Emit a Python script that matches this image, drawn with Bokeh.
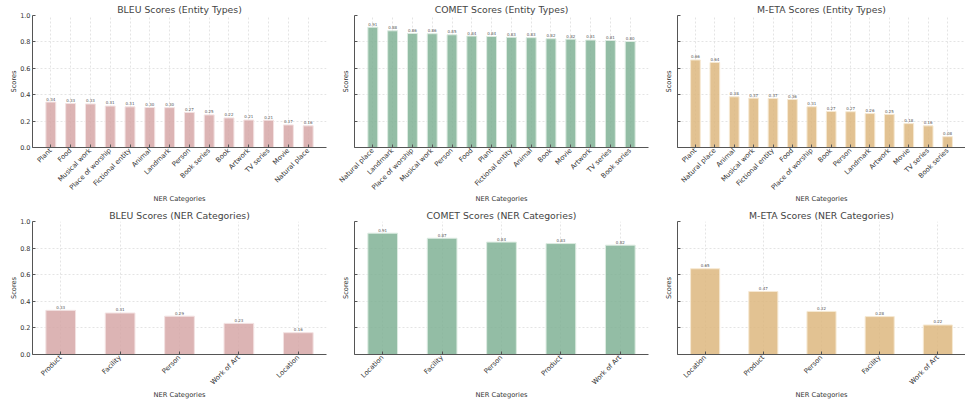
import math
from bokeh.plotting import figure
from bokeh.models import Range1d, FixedTicker, ColumnDataSource, PrintfTickFormatter
from bokeh.layouts import gridplot
from bokeh.embed import file_html
from bokeh.resources import INLINE
from bokeh.core.properties import value

# ---------------- data ----------------
bleu_entity_cats = ["Plant", "Food", "Musical work", "Place of worship", "Fictional entity",
                    "Animal", "Landmark", "Person", "Book series", "Book", "Artwork",
                    "TV series", "Movie", "Natural place"]
bleu_entity_vals = [0.344, 0.333, 0.330, 0.314, 0.308, 0.303, 0.302, 0.266, 0.247, 0.224,
                    0.208, 0.207, 0.171, 0.164]

comet_entity_cats = ["Natural place", "Landmark", "Place of worship", "Musical work", "Person",
                     "Food", "Plant", "Fictional entity", "Animal", "Book", "Movie", "Artwork",
                     "TV series", "Book series"]
comet_entity_vals = [0.911, 0.884, 0.864, 0.862, 0.854, 0.844, 0.841, 0.835, 0.832, 0.824,
                     0.821, 0.814, 0.811, 0.803]

meta_entity_cats = ["Plant", "Natural place", "Animal", "Musical work", "Fictional entity",
                    "Food", "Place of worship", "Book", "Person", "Landmark", "Artwork",
                    "Movie", "TV series", "Book series"]
meta_entity_vals = [0.663, 0.644, 0.384, 0.374, 0.372, 0.364, 0.309, 0.273, 0.271, 0.257,
                    0.251, 0.181, 0.164, 0.082]

bleu_ner_cats = ["Product", "Facility", "Person", "Work of Art", "Location"]
bleu_ner_vals = [0.332, 0.312, 0.288, 0.234, 0.164]

comet_ner_cats = ["Location", "Facility", "Person", "Product", "Work of Art"]
comet_ner_vals = [0.912, 0.874, 0.845, 0.834, 0.822]

meta_ner_cats = ["Location", "Product", "Person", "Facility", "Work of Art"]
meta_ner_vals = [0.645, 0.474, 0.324, 0.285, 0.222]

y_ticks = [0.0, 0.2, 0.4, 0.6, 0.8, 1.0]

BLEU_COLOR, BLEU_EDGE = "#d6a7a7", "#f3e2e2"
COMET_COLOR, COMET_EDGE = "#80b295", "#dcebe1"
META_COLOR, META_EDGE = "#ddb77f", "#f6e9d3"

FONT = "DejaVu Sans"
AXIS_C = "#555555"
TEXT_C = "#333333"


def make(title, cats, vals, color, edge, show_ylab, width, height, bl, br, bt, bb, xlab_standoff):
    n = len(cats)
    lo = -0.25 - 0.05 * (n - 0.5)
    hi = (n - 1) + 0.25 + 0.05 * (n - 0.5)
    p = figure(width=width, height=height, x_range=Range1d(lo, hi), y_range=Range1d(0, 1),
               output_backend="svg", toolbar_location=None,
               min_border_left=bl, min_border_right=br, min_border_top=bt, min_border_bottom=bb)
    xs = list(range(n))
    src = ColumnDataSource(dict(x=xs, top=vals,
                                label=[f"{v:.2f}" for v in vals],
                                ly=[v + 0.012 for v in vals]))
    p.vbar(x="x", top="top", bottom=0, width=0.5, source=src,
           fill_color=color, fill_alpha=0.85, line_color=edge, line_width=1)
    p.text(x="x", y="ly", text="label", source=src, text_font=value(FONT),
           text_font_size="4px", text_align="center", text_baseline="bottom",
           text_color="#555555")

    p.title.text = title
    p.title.text_font = FONT
    p.title.text_font_size = "9.3px"
    p.title.text_font_style = "normal"
    p.title.text_color = "#444444"
    p.title.align = "center"
    p.title.standoff = 2

    p.outline_line_color = None

    p.xaxis.ticker = FixedTicker(ticks=xs)
    p.xaxis.major_label_overrides = {i: c for i, c in enumerate(cats)}
    p.xaxis.major_label_orientation = math.pi / 4
    p.xaxis.axis_label = "NER Categories"

    p.yaxis.ticker = FixedTicker(ticks=y_ticks)
    p.yaxis.formatter = PrintfTickFormatter(format="%.1f")
    p.yaxis.axis_label = "Scores"

    for ax in (p.xaxis[0], p.yaxis[0]):
        ax.axis_line_color = AXIS_C
        ax.axis_line_width = 1
        ax.major_tick_line_color = AXIS_C
        ax.major_tick_in = 3
        ax.major_tick_out = 0
        ax.minor_tick_line_color = None
        ax.major_label_text_font = FONT
        ax.major_label_text_font_size = "6.5px"
        ax.major_label_text_color = TEXT_C
        ax.major_label_standoff = 2
        ax.axis_label_text_font = FONT
        ax.axis_label_text_font_size = "6.7px"
        ax.axis_label_text_font_style = "normal"
        ax.axis_label_text_color = TEXT_C

    p.xaxis.major_label_text_font_size = "6.8px"
    p.xaxis.axis_label_standoff = xlab_standoff
    if show_ylab:
        p.yaxis.axis_label_standoff = -1
    else:
        p.yaxis.major_label_text_color = None
        p.yaxis.major_label_standoff = 0
        p.yaxis.axis_label_standoff = 5

    for g in (p.xgrid[0], p.ygrid[0]):
        g.grid_line_color = "#dddddd"
        g.grid_line_dash = "2 2"
        g.grid_line_width = 0.8
    return p


TOP_H, BOT_H = 206, 196
W1, W2, W3 = 328, 322, 315

f1 = make("BLEU Scores (Entity Types)", bleu_entity_cats, bleu_entity_vals, BLEU_COLOR, BLEU_EDGE,
          True, W1, TOP_H, 32, 2, 15, 57, -2)
f2 = make("COMET Scores (Entity Types)", comet_entity_cats, comet_entity_vals, COMET_COLOR, COMET_EDGE,
          False, W2, TOP_H, 26, 2, 15, 57, -2)
f3 = make("M-ETA Scores (Entity Types)", meta_entity_cats, meta_entity_vals, META_COLOR, META_EDGE,
          False, W3, TOP_H, 27, 0, 15, 57, -2)
f4 = make("BLEU Scores (NER Categories)", bleu_ner_cats, bleu_ner_vals, BLEU_COLOR, BLEU_EDGE,
          True, W1, BOT_H, 32, 2, 15, 47, -1)
f5 = make("COMET Scores (NER Categories)", comet_ner_cats, comet_ner_vals, COMET_COLOR, COMET_EDGE,
          False, W2, BOT_H, 26, 2, 15, 47, -1)
f6 = make("M-ETA Scores (NER Categories)", meta_ner_cats, meta_ner_vals, META_COLOR, META_EDGE,
          False, W3, BOT_H, 27, 0, 15, 47, -1)

grid = gridplot([[f1, f2, f3], [f4, f5, f6]], toolbar_location=None)

open("out.html", "w").write(file_html(grid, INLINE))
